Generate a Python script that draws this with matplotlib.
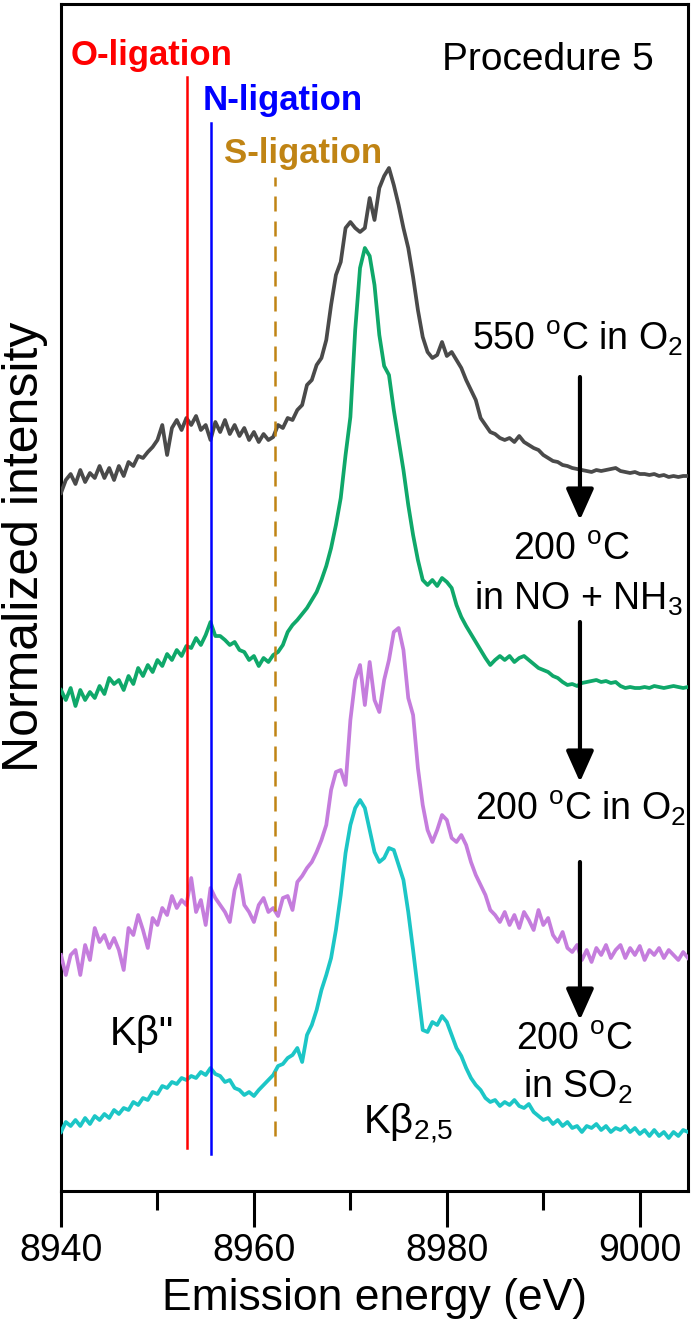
import numpy as np
import matplotlib
matplotlib.use("Agg")
import matplotlib.pyplot as plt
from matplotlib.patches import FancyArrowPatch
from matplotlib.ticker import MultipleLocator

plt.rcParams['font.family'] = ['Liberation Sans', 'DejaVu Sans']
plt.rcParams['mathtext.fontset'] = 'custom'
plt.rcParams['mathtext.rm'] = 'Liberation Sans'
plt.rcParams['mathtext.it'] = 'Liberation Sans:italic'
plt.rcParams['mathtext.bf'] = 'Liberation Sans:bold'

# ---------------- data ----------------
energy = np.arange(8940.0, 9005.01, 0.5)   # emission energy grid (eV)

# stacked normalized intensities (arbitrary units, offset per spectrum)
int_550_O2 = [
    707, 720, 726, 716, 730, 718, 727, 722, 734, 722,
    732, 720, 734, 724, 738, 734, 744, 742, 748, 753,
    760, 775, 745, 772, 780, 770, 782, 775, 784, 770,
    775, 760, 778, 768, 780, 766, 775, 764, 772, 760,
    768, 758, 766, 760, 763, 775, 772, 782, 780, 790,
    795, 815, 820, 835, 842, 860, 895, 925, 938, 972,
    978, 972, 968, 972, 1002, 980, 1012, 1024, 1032, 1015,
    995, 972, 952, 923, 890, 863, 848, 842, 845, 858,
    844, 848, 840, 832, 820, 810, 800, 782, 775, 768,
    766, 762, 760, 762, 758, 764, 758, 755, 752, 750,
    745, 742, 739, 738, 735, 734, 732, 731, 730, 729,
    728, 730, 729, 730, 731, 732, 729, 728, 727, 728,
    726, 726, 725, 726, 724, 725, 723, 724, 723, 724,
    724]

int_200_NO_NH3 = [
    510, 500, 512, 494, 510, 500, 508, 502, 514, 506,
    522, 516, 520, 510, 524, 516, 532, 524, 535, 528,
    540, 534, 546, 540, 550, 544, 554, 552, 562, 555,
    565, 578, 564, 564, 560, 555, 558, 550, 548, 540,
    544, 534, 542, 538, 545, 548, 555, 568, 575, 580,
    586, 592, 600, 608, 620, 634, 652, 675, 702, 745,
    783, 870, 932, 952, 944, 915, 865, 834, 825, 790,
    760, 730, 695, 665, 640, 620, 615, 620, 614, 622,
    618, 612, 595, 583, 574, 566, 558, 550, 542, 535,
    540, 544, 540, 544, 538, 542, 544, 540, 536, 532,
    530, 528, 524, 522, 518, 515, 516, 514, 517, 518,
    519, 520, 518, 519, 517, 518, 514, 512, 513, 512,
    512, 513, 512, 514, 513, 512, 513, 514, 513, 512,
    513]

int_200_O2 = [
    245, 225, 245, 250, 225, 255, 240, 272, 258, 265,
    252, 262, 250, 230, 272, 265, 285, 270, 252, 282,
    275, 292, 285, 304, 292, 300, 295, 322, 288, 300,
    275, 312, 302, 295, 288, 278, 310, 325, 295, 288,
    278, 295, 302, 288, 292, 284, 302, 304, 290, 318,
    324, 332, 338, 348, 360, 375, 410, 428, 430, 415,
    480, 520, 535, 495, 538, 500, 488, 520, 540, 568,
    572, 550, 502, 485, 432, 395, 370, 358, 370, 385,
    380, 362, 358, 365, 355, 338, 325, 315, 305, 290,
    285, 278, 288, 275, 285, 272, 288, 280, 270, 290,
    275, 282, 265, 258, 268, 252, 248, 255, 240, 250,
    238, 252, 245, 255, 242, 250, 255, 242, 252, 245,
    254, 240, 250, 245, 252, 242, 250, 245, 240, 248,
    242]

int_200_SO2 = [
    68, 78, 74, 80, 74, 82, 76, 84, 80, 86,
    82, 90, 86, 92, 90, 98, 95, 102, 100, 108,
    106, 114, 112, 118, 116, 122, 120, 124, 122, 128,
    125, 132, 126, 124, 118, 120, 112, 110, 105, 108,
    104, 110, 115, 120, 125, 134, 136, 142, 145, 152,
    138, 165, 175, 190, 210, 225, 242, 270, 305, 347,
    375, 392, 400, 392, 370, 348, 338, 342, 352, 350,
    335, 320, 288, 250, 210, 170, 168, 178, 175, 184,
    178, 165, 152, 144, 132, 122, 115, 110, 102, 98,
    100, 94, 98, 95, 100, 94, 92, 96, 88, 84,
    80, 82, 76, 80, 74, 78, 72, 74, 68, 74,
    72, 76, 70, 74, 68, 72, 70, 74, 68, 72,
    66, 70, 64, 70, 64, 68, 62, 68, 64, 70,
    68]

series_colors = ['#4a4a4a', '#0fa86a', '#c57ddd', '#1cc6c6']
series_values = [int_550_O2, int_200_NO_NH3, int_200_O2, int_200_SO2]

ligation_labels = ['O-ligation', 'N-ligation', 'S-ligation']
ligation_energy = [8953.1, 8955.5, 8962.2]
ligation_colors = ['#ff0000', '#0000ff', '#c08414']

xticks_major = [8940, 8960, 8980, 9000]

# ---------------- figure ----------------
fig = plt.figure(figsize=(6.92, 13.29), dpi=100)
ax = fig.add_axes([61 / 692, 1 - 1191 / 1329, 627 / 692, 1187 / 1329])

for vals, col in zip(series_values, series_colors):
    ax.plot(energy, vals, color=col, lw=2.7, solid_joinstyle='round', zorder=3)

# ligation markers
line_spans = [(52, 1123), (46, 1077), (64, 1023)]
for e, col, (y0, y1), ls in zip(ligation_energy, ligation_colors, line_spans,
                                ['-', '-', (0, (6, 4))]):
    ax.plot([e, e], [y0, y1], color=col, lw=1.8, linestyle=ls, zorder=4)

ax.text(8941.0, 1135, ligation_labels[0], color=ligation_colors[0],
        fontsize=25, fontweight='bold', va='baseline', ha='left')
ax.text(8954.7, 1090, ligation_labels[1], color=ligation_colors[1],
        fontsize=25, fontweight='bold', va='baseline', ha='left')
ax.text(8956.9, 1037, ligation_labels[2], color=ligation_colors[2],
        fontsize=25, fontweight='bold', va='baseline', ha='left')

ax.text(8979.5, 1130, 'Procedure 5', fontsize=28, va='baseline', ha='left')

deg = r'$^{\mathrm{o}}$C'
ax.text(8982.6, 850, '550 ' + deg + r' in O$_2$', fontsize=27,
        va='baseline', ha='left')
ax.text(8992.9, 640, '200 ' + deg, fontsize=27, va='baseline', ha='center')
ax.text(8993.6, 590, r'in NO + NH$_3$', fontsize=27, va='baseline', ha='center')
ax.text(8993.9, 380, '200 ' + deg + r' in O$_2$', fontsize=27,
        va='baseline', ha='center')
ax.text(8993.2, 150, '200 ' + deg, fontsize=27, va='baseline', ha='center')
ax.text(8993.6, 102, r'in SO$_2$', fontsize=27, va='baseline', ha='center')

ax.text(8945.1, 155, 'K\u03b2"', fontsize=29, va='baseline', ha='left')
ax.text(8971.3, 66, 'K\u03b2$_{2{,}5}$', fontsize=29, va='baseline', ha='left')

# arrows
arrow_x = 8993.8
for y0, y1 in [(823, 680), (578, 418), (338, 180)]:
    arr = FancyArrowPatch((arrow_x, y0), (arrow_x, y1),
                          arrowstyle='-|>,head_length=19,head_width=8.5',
                          mutation_scale=1, lw=3, color='black',
                          shrinkA=0, shrinkB=0, zorder=5)
    ax.add_patch(arr)

ax.set_xlim(8940, 9005)
ax.set_ylim(9, 1196)
ax.set_yticks([])
ax.set_xticks(xticks_major)
ax.xaxis.set_minor_locator(MultipleLocator(10))
ax.tick_params(axis='x', which='major', direction='out', length=26, width=2.2,
               labelsize=27, pad=4)
ax.tick_params(axis='x', which='minor', direction='out', length=13.5, width=2.2)
for s in ax.spines.values():
    s.set_linewidth(2.2)

ax.set_xlabel('Emission energy (eV)', fontsize=32, labelpad=7)
ax.set_ylabel('Normalized intensity', fontsize=36)
ax.yaxis.set_label_coords(-0.02, 0.5425)

fig.savefig('out.png', dpi=100)
